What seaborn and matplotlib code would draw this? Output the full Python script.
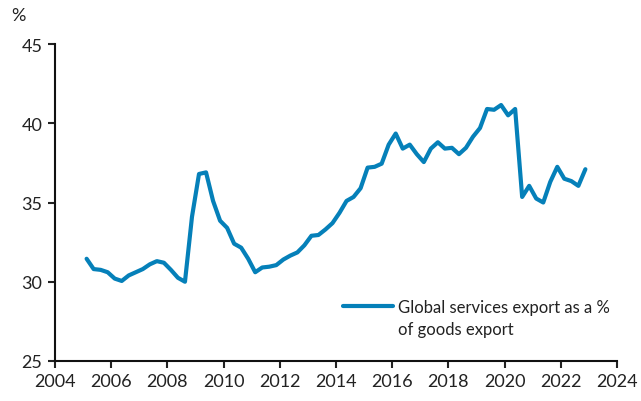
import numpy as np
import pandas as pd
import seaborn as sns
import matplotlib.pyplot as plt

# Quarterly global services exports as a share of goods exports, 2005Q1-2022Q4
years = list(range(2005, 2023))
quarters = [1, 2, 3, 4]
share = [
    31.45, 30.80, 30.75, 30.60,   # 2005
    30.20, 30.05, 30.40, 30.60,   # 2006
    30.80, 31.10, 31.30, 31.20,   # 2007
    30.75, 30.25, 30.00, 34.10,   # 2008
    36.80, 36.90, 35.10, 33.85,   # 2009
    33.40, 32.40, 32.15, 31.45,   # 2010
    30.60, 30.90, 30.95, 31.05,   # 2011
    31.40, 31.65, 31.85, 32.30,   # 2012
    32.90, 32.95, 33.30, 33.70,   # 2013
    34.35, 35.10, 35.35, 35.90,   # 2014
    37.20, 37.25, 37.45, 38.65,   # 2015
    39.35, 38.40, 38.65, 38.05,   # 2016
    37.55, 38.40, 38.80, 38.40,   # 2017
    38.45, 38.05, 38.45, 39.15,   # 2018
    39.70, 40.90, 40.85, 41.15,   # 2019
    40.50, 40.90, 35.35, 36.05,   # 2020
    35.25, 35.00, 36.30, 37.25,   # 2021
    36.50, 36.35, 36.05, 37.10,   # 2022
]
series_label = "Global services export as a %\nof goods export"
x_ticks = [2004, 2006, 2008, 2010, 2012, 2014, 2016, 2018, 2020, 2022, 2024]
y_ticks = [25, 30, 35, 40, 45]

# mid-quarter time coordinate
t = [y + (q - 0.5) / 4 for y in years for q in quarters]
df = pd.DataFrame({"time": t, "share": share})

sns.set_theme(style="ticks")
plt.rcParams["font.family"] = ["Lato", "DejaVu Sans"]

fig = plt.figure(figsize=(6.41, 4.02), dpi=100)
ax = fig.add_axes([55 / 641, 1 - 362 / 402, (617 - 55) / 641, (362 - 45) / 402])

sns.lineplot(data=df, x="time", y="share", ax=ax, color="#0580b9",
             linewidth=3.0, label=series_label)

ax.set_xlim(2004, 2024)
ax.set_ylim(25, 45)
ax.set_xticks(x_ticks)
ax.set_yticks(y_ticks)
ax.set_xlabel("")
ax.set_ylabel("")
ax.tick_params(axis="both", labelsize=13, colors="#222222", length=5,
               width=1.5, direction="out", pad=4)
for s in ["top", "right"]:
    ax.spines[s].set_visible(False)
for s in ["left", "bottom"]:
    ax.spines[s].set_linewidth(1.5)
    ax.spines[s].set_color("#111111")

fig.text(11 / 641, 1 - 16 / 402, "%", fontsize=13, color="#222222",
         ha="left", va="center")

leg = ax.legend(loc="lower right", bbox_to_anchor=(1.0, 0.055), frameon=False,
                fontsize=12, handlelength=3.0, handletextpad=0.3,
                borderaxespad=0.0)
for txt in leg.get_texts():
    txt.set_color("#222222")
    txt.set_linespacing(1.45)

# put the legend swatch level with the first line of its label
for h in leg.legend_handles:
    h.set_ydata([y + 9.0 for y in h.get_ydata()])

fig.savefig("out.png", dpi=100)
